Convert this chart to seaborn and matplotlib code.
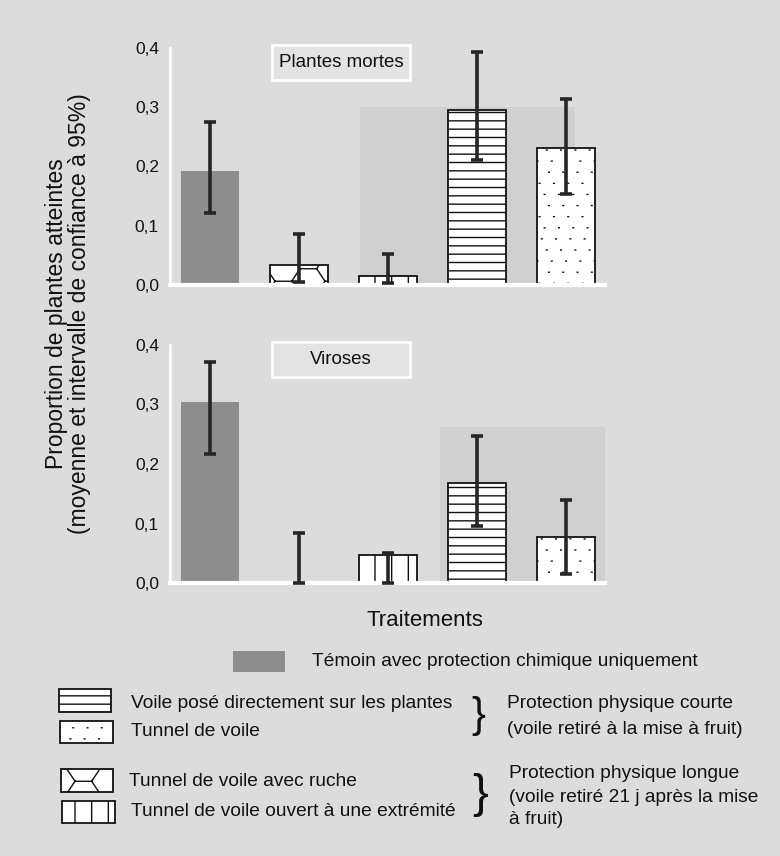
import warnings
import numpy as np
import pandas as pd
import matplotlib
matplotlib.use('Agg')
import matplotlib.pyplot as plt
from matplotlib import hatch as mhatch
from matplotlib.path import Path
from matplotlib.patches import Rectangle
import seaborn as sns

warnings.filterwarnings('ignore')

# Data (order of the bars, left to right)
treatments = ['Témoin avec protection chimique uniquement',
              'Tunnel de voile avec ruche',
              'Tunnel de voile ouvert à une extrémité',
              'Voile posé directement sur les plantes',
              'Tunnel de voile']

mortes_mean = [0.192, 0.034, 0.016, 0.295, 0.231]
mortes_low = [0.121, 0.005, 0.004, 0.211, 0.154]
mortes_high = [0.275, 0.086, 0.053, 0.393, 0.314]

viroses_mean = [0.304, 0.0, 0.047, 0.168, 0.077]
viroses_low = [0.217, 0.0, 0.0, 0.096, 0.015]
viroses_high = [0.371, 0.084, 0.051, 0.247, 0.140]

yticks = [0.0, 0.1, 0.2, 0.3, 0.4]


# matplotlib has no honeycomb or fine stipple hatch, so register two ('h' and 'd')
class Honeycomb(mhatch.HatchPatternBase):
    def __init__(self, hatch, density):
        n = hatch.count('h') if hatch else 0
        pts = []
        if n:
            nx, ny = 2 * n, 4 * n
            w, h = 1.0 / nx, 1.0 / ny
            s = w / 3
            base = [((0, 0), (s, 0)), ((s, 0), (1.5 * s, h / 2)),
                    ((1.5 * s, h / 2), (s, h)), ((1.5 * s, h / 2), (2.5 * s, h / 2)),
                    ((2.5 * s, h / 2), (3 * s, 0)), ((2.5 * s, h / 2), (3 * s, h))]
            for i in range(-1, nx + 1):
                for j in range(-1, ny + 1):
                    for (x0, y0), (x1, y1) in base:
                        pts.append((x0 + i * w, y0 + j * h + h / 4))
                        pts.append((x1 + i * w, y1 + j * h + h / 4))
        self.pts = np.array(pts).reshape(-1, 2)
        self.num_vertices = len(self.pts)

    def set_vertices_and_codes(self, vertices, codes):
        vertices[:] = self.pts
        codes[0::2] = Path.MOVETO
        codes[1::2] = Path.LINETO


class Stipple(Honeycomb):
    def __init__(self, hatch, density):
        pts = []
        if hatch and 'd' in hatch:
            nx, ny = 7, 9
            for j in range(ny):
                for i in range(nx):
                    x = (i + 0.25 + 0.5 * (j % 2) + 0.15 * ((i * 3 + j) % 3 - 1)) / nx
                    y = (j + 0.5) / ny
                    pts.append((x, y))
                    pts.append((x + 0.007, y))
        self.pts = np.array(pts).reshape(-1, 2)
        self.num_vertices = len(self.pts)


mhatch._hatch_types.append(Honeycomb)
mhatch._hatch_types.append(Stipple)

sns.set_style('white')
plt.rcParams['font.family'] = ['Liberation Sans', 'DejaVu Sans']
plt.rcParams['hatch.linewidth'] = 1.0
plt.rcParams['text.color'] = '#111111'

bg = '#dcdcdc'
gray = '#8d8d8d'
hatches = ['', 'h', '|', '--', 'd']


def fx(x):
    return x / 780


def fy(y):
    return 1 - y / 856


fig = plt.figure(figsize=(7.8, 8.56), dpi=100, facecolor=bg)

panels = [(mortes_mean, mortes_low, mortes_high, 'Plantes mortes', 48, 285, (1.69, 4.1, 0.75)),
          (viroses_mean, viroses_low, viroses_high, 'Viroses', 345, 583, (2.58, 4.5, 0.655))]

for means, low, high, title, top, bottom, shade in panels:
    ax = fig.add_axes([fx(170), fy(bottom), fx(605) - fx(170), (bottom - top) / 856])
    ax.set_facecolor('none')
    # scanned halftone patch behind some bars
    ax.axvspan(shade[0], shade[1], ymin=0, ymax=shade[2], color='#d0d0d0', lw=0, zorder=0)

    df = pd.DataFrame({'traitement': treatments, 'proportion': means})
    sns.barplot(data=df, x='traitement', y='proportion', order=treatments, width=0.65,
                color='white', errorbar=None, ax=ax, zorder=2)
    for bar, hp in zip(ax.containers[0], hatches):
        if hp == '':
            bar.set_facecolor(gray)
            bar.set_edgecolor('none')
        else:
            bar.set_facecolor('white')
            bar.set_edgecolor('#111111')
            bar.set_linewidth(1.3)
            bar.set_hatch(hp)

    m = np.array(means)
    yerr = [m - np.array(low), np.array(high) - m]
    ax.errorbar(np.arange(len(treatments)), m, yerr=yerr, fmt='none', ecolor='#262626',
                elinewidth=2.6, capsize=4.5, capthick=2.6, zorder=3, clip_on=False)

    ax.set_xlim(-0.45, 4.44)
    ax.set_ylim(0, 0.4)
    ax.set_xticks([])
    ax.set_yticks(yticks)
    ax.set_yticklabels([f'{v:.1f}'.replace('.', ',') for v in yticks])
    ax.tick_params(axis='y', length=0, pad=8, labelsize=12.5, labelcolor='#111111')
    ax.set_xlabel('')
    ax.set_ylabel('')
    sns.despine(ax=ax)
    ax.spines['left'].set_color('white')
    ax.spines['left'].set_linewidth(2)
    ax.spines['bottom'].set_color('white')
    ax.spines['bottom'].set_linewidth(3)

    # title box
    fig.add_artist(Rectangle((fx(272), fy(top + 32)), fx(138), 35 / 856, transform=fig.transFigure,
                             facecolor='#e3e3e3', edgecolor='white', lw=2))
    fig.text(fx(341), fy(top + 14.5), title, ha='center', va='center', fontsize=13.5)

fig.text(fx(68), fy(314), 'Proportion de plantes atteintes\n(moyenne et intervalle de confiance à 95%)',
         rotation=90, ha='center', va='center', fontsize=16.5, linespacing=1.05)
fig.text(fx(425), fy(621), 'Traitements', ha='center', va='center', fontsize=16)

# legend, drawn by hand
swatches = [((233, 651, 285, 672), ''), ((59, 689, 111, 712), '--'), ((60, 721, 113, 743), 'd'),
            ((61, 769, 113, 792), 'h'), ((62, 801, 115, 823), '|')]
for (x0, y0, x1, y1), hp in swatches:
    if hp == '':
        fig.add_artist(Rectangle((fx(x0), fy(y1)), fx(x1 - x0), (y1 - y0) / 856,
                                 transform=fig.transFigure, facecolor=gray, edgecolor='none'))
    else:
        fig.add_artist(Rectangle((fx(x0), fy(y1)), fx(x1 - x0), (y1 - y0) / 856,
                                 transform=fig.transFigure, facecolor='white', edgecolor='#111111',
                                 lw=1.3, hatch=hp))

lab = 13.8
fig.text(fx(312), fy(661), treatments[0], ha='left', va='center', fontsize=lab)
fig.text(fx(131), fy(704), treatments[3], ha='left', va='center', fontsize=lab)
fig.text(fx(131), fy(732), treatments[4], ha='left', va='center', fontsize=lab)
fig.text(fx(129), fy(782), treatments[1], ha='left', va='center', fontsize=lab)
fig.text(fx(131), fy(811), treatments[2], ha='left', va='center', fontsize=lab)

fig.text(fx(478), fy(716), '}', ha='center', va='center', fontsize=30)
fig.text(fx(480), fy(795), '}', ha='center', va='center', fontsize=34)

fig.text(fx(507), fy(704), 'Protection physique courte', ha='left', va='center', fontsize=lab)
fig.text(fx(507), fy(729), '(voile retiré à la mise à fruit)', ha='left', va='center', fontsize=lab)
fig.text(fx(509), fy(773), 'Protection physique longue', ha='left', va='center', fontsize=lab)
fig.text(fx(509), fy(797), '(voile retiré 21 j après la mise', ha='left', va='center', fontsize=lab)
fig.text(fx(509), fy(820), 'à fruit)', ha='left', va='center', fontsize=lab)

fig.savefig('out.png', dpi=100, facecolor=bg)
